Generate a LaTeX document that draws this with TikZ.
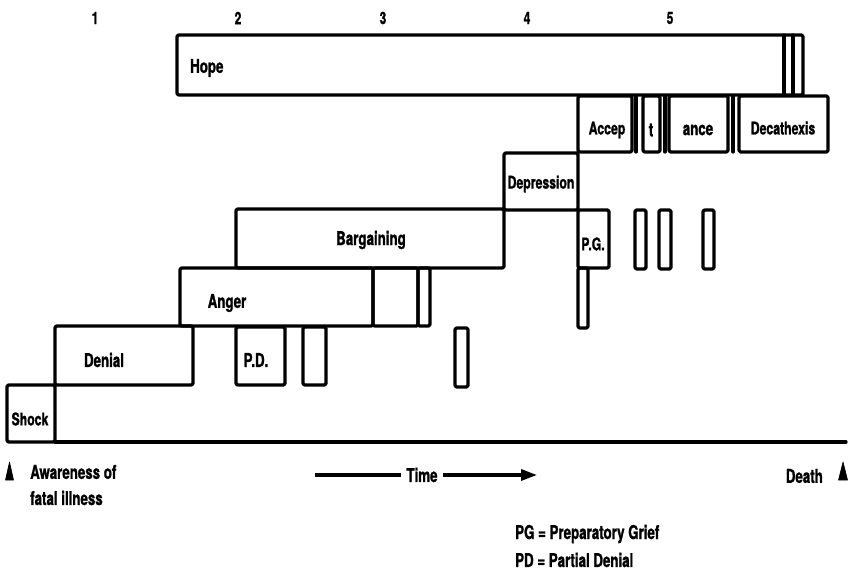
\documentclass[tikz,border=0pt]{standalone}
\usepackage{fontspec}
\setmainfont{TeX Gyre Heros}[FakeStretch=0.7, BoldFeatures={FakeBold=1.2}]
\usetikzlibrary{arrows.meta}
\tikzset{
  box/.style={line width=3.2pt, rounded corners=1.5pt, line join=round},
  bar/.style={line width=3.2pt, line cap=round},
  lbl/.style={inner sep=0pt, font=\fontsize{19}{22}\selectfont\bfseries},
  tight/.style={inner sep=0pt, font=\fontsize{17.5}{21}\selectfont\bfseries},
  num/.style={inner sep=0pt, font=\fontsize{17}{19}\selectfont\bfseries},
  tri/.style={fill=black, draw=black, line width=0.6pt, line join=round}
}
\begin{document}
\begin{tikzpicture}[x=1pt,y=-1pt]
\useasboundingbox (0,0) rectangle (856,577);
% stage numbers
\node[num] (n1) at (95,18) {1};
\node[num] (n2) at (238,18) {2};
\node[num] (n3) at (383,18) {3};
\node[num] (n4) at (527,18) {4};
\node[num] (n5) at (670,18) {5};
% Hope
\draw[box] (177,35) rectangle (803,95);
\draw[bar] (784,35) -- (784,95);
\draw[bar] (793,35) -- (793,95);
\node[lbl, anchor=west] (hope) at (190,68) {Hope};
% Acceptance row
\draw[box] (578,96) rectangle (632,152);
\draw[bar] (636,96) -- (636,152);
\draw[box] (643,96) rectangle (660,152);
\draw[bar] (665,96) -- (665,152);
\draw[box] (669,96) rectangle (728,152);
\draw[bar] (733,96) -- (733,152);
\draw[box] (739,96) rectangle (828,152);
\node[tight] (accep) at (607,130) {Accep};
\node[lbl] (t) at (651,130) {t};
\node[lbl] (ance) at (698,130) {ance};
\node[tight] (decath) at (783,128) {Decathexis};
% Depression
\draw[box] (504,153) rectangle (578,210);
\node[tight] (depr) at (541,184) {Depression};
% P.G. and bars
\draw[box] (578,210) rectangle (609,268);
\node[tight] (pg) at (593,244) {P.G.};
\draw[box] (578,268) rectangle (588,328);
\draw[box] (635,210) rectangle (646,269);
\draw[box] (659,210) rectangle (671,269);
\draw[box] (703,210) rectangle (714,269);
% Bargaining
\draw[box] (236,209) rectangle (504,268);
\node[lbl] (barg) at (371,240) {Bargaining};
% Anger
\draw[box] (180,268) rectangle (373,326);
\draw[box] (373,268) rectangle (418,326);
\draw[box] (418,268) rectangle (430,326);
\node[lbl] (anger) at (227,303) {Anger};
\draw[box] (455,328) rectangle (468,387);
% Denial
\draw[box] (55,326) rectangle (193,385);
\node[lbl] (denial) at (104,360) {Denial};
\draw[box] (236,327) rectangle (285,385);
\node[lbl] (pd) at (256,360) {P.D.};
\draw[box] (303,327) rectangle (326,385);
% Shock and baseline
\draw[box] (7,385) rectangle (55,442);
\node[tight] (shock) at (30,419) {Shock};
\draw[bar] (55,442) -- (846,442);
% bottom annotations
\draw[tri] (9.5,462) -- (13.5,480) -- (5.5,480) -- cycle;
\node[lbl, anchor=west] (aware) at (30,472) {Awareness of};
\node[lbl, anchor=west] (fatal) at (30,498) {fatal illness};
\node[lbl] (time) at (422,475) {Time};
\coordinate (tl) at (315,475);
\coordinate (tr) at (537,475);
\draw[line width=3.2pt, shorten >=5pt] (tl) -- (time.west);
\draw[line width=3.2pt, shorten <=5pt, -{Triangle[length=16pt,width=11pt]}] (time.east) -- (tr);
\node[lbl, anchor=east] (death) at (823,476) {Death};
\draw[tri] (843,462) -- (847.5,480) -- (838.5,480) -- cycle;
% legend
\node[lbl, anchor=west] (leg1) at (515,534) {PG = Preparatory Grief};
\node[lbl, anchor=west] (leg2) at (515,560) {PD = Partial Denial};
\end{tikzpicture}
\end{document}
